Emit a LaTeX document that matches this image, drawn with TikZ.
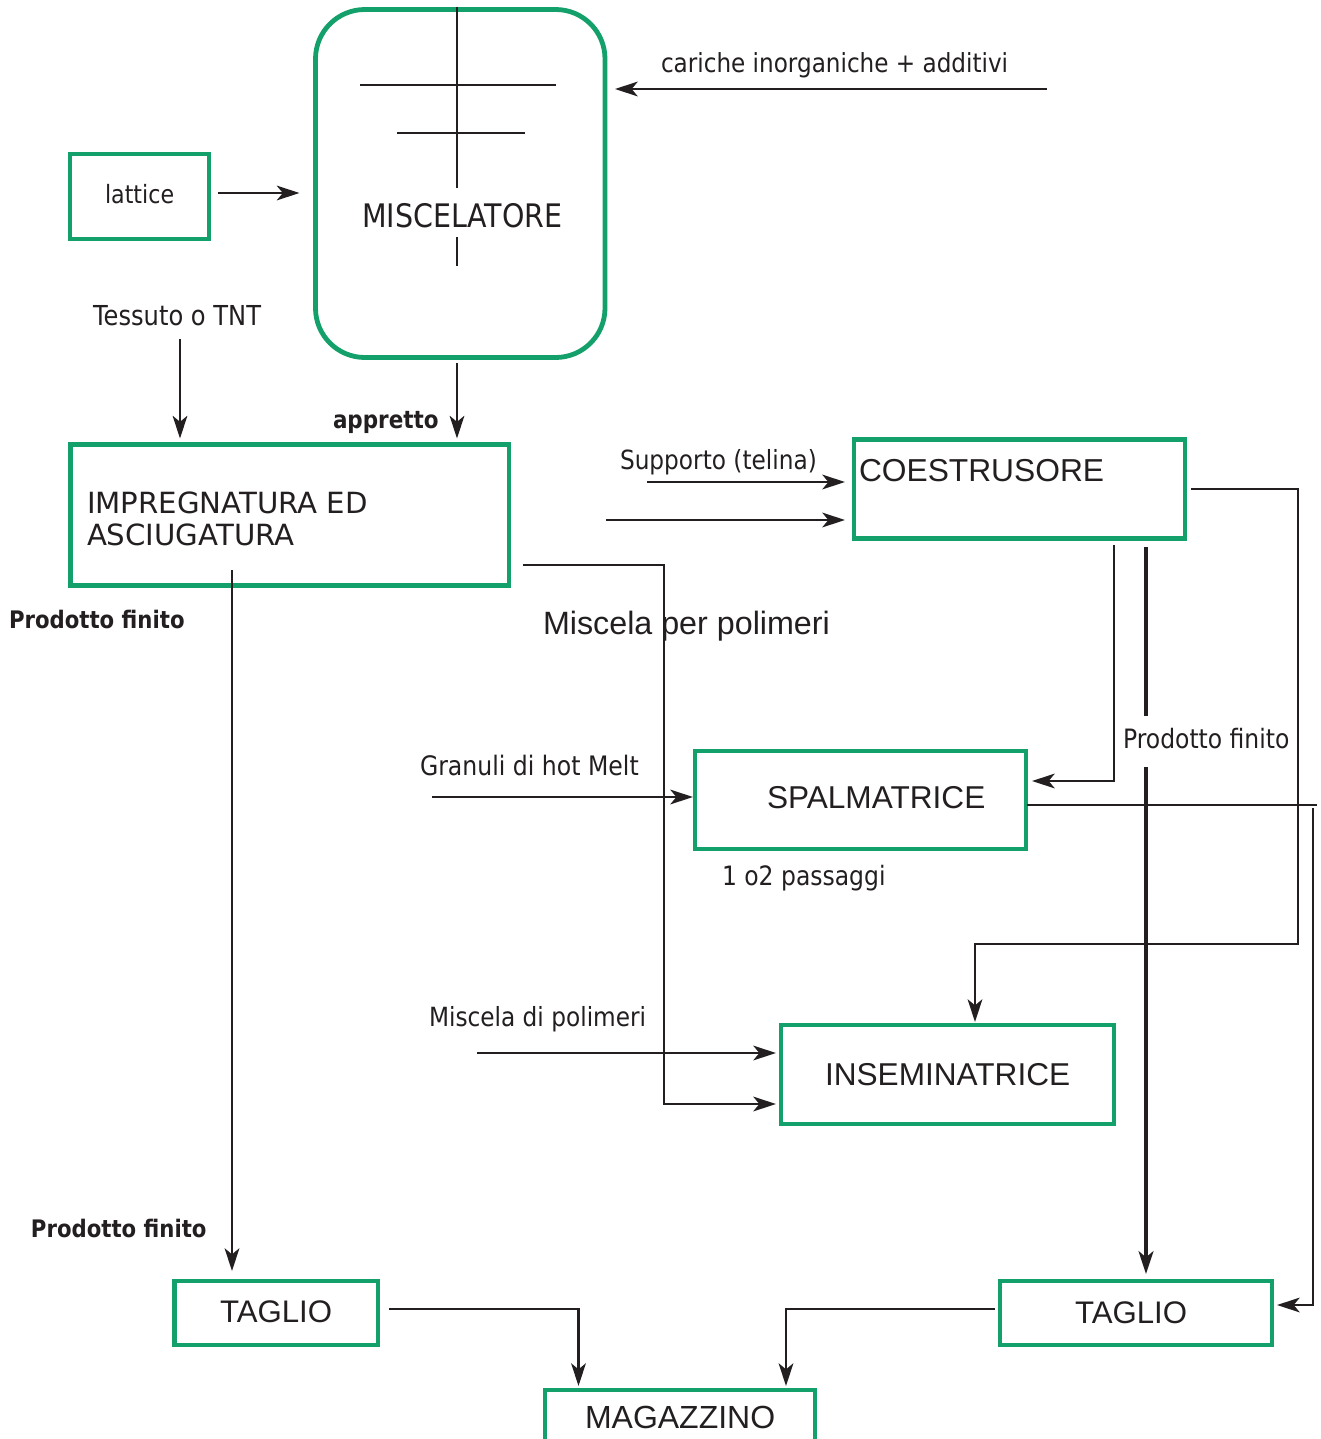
\documentclass[tikz,border=0pt]{standalone}
\usepackage{fontspec}
\usetikzlibrary{arrows.meta,calc,fit}
\newfontfamily\tah[FakeStretch=0.88]{DejaVu Sans}
\newfontfamily\ver{DejaVu Sans}
\newfontfamily\ari{Liberation Sans}
\definecolor{ink}{RGB}{35,31,32}
\definecolor{boxgreen}{RGB}{20,160,106}
\newcommand{\fs}[1]{\fontsize{#1}{#1}\selectfont}
\tikzset{
  gbox/.style={draw=boxgreen, line width=3.6pt, inner sep=0pt, outer sep=0pt, rectangle},
  ln/.style={draw=ink, line width=1.9pt},
  thk/.style={draw=ink, line width=3pt},
  arr/.style={ln, -{Stealth[length=17pt,width=11pt,inset=4.5pt]}},
  tharr/.style={thk, -{Stealth[length=17pt,width=11pt,inset=4.5pt]}},
  txt/.style={anchor=base west, inner sep=0pt, outer sep=0pt, text=ink}
}
\begin{document}
\begin{tikzpicture}[x=0.75pt,y=-0.75pt]
\useasboundingbox (0,0) rectangle (1321,1439);
\clip (0,0) rectangle (1321,1439);
\fill[white] (0,0) rectangle (1321,1439);

% boxes
\node[gbox, rounded corners=37pt, fit={(315.5,9.5) (605,357.5)}] (mix) {};
\node[gbox, fit={(70,154) (209,239)}] (lat) {};
\node[gbox, fit={(70.5,444.5) (509,585.5)}] (imp) {};
\node[gbox, fit={(854,439.5) (1185,538.5)}] (coe) {};
\node[gbox, fit={(695,751) (1026,849)}] (spal) {};
\node[gbox, fit={(781,1025) (1114,1124)}] (ins) {};
\node[gbox, fit={(174.5,1281) (378,1345)}] (tagl) {};
\node[gbox, fit={(1000,1281) (1272,1345)}] (tagr) {};
\node[gbox, fit={(545,1390) (815,1480)}] (mag) {};

% mixer shaft and blades
\draw[ln] (457,7) -- (457,188);
\draw[ln] (457,237) -- (457,266);
\draw[ln] (360,85) -- (556,85);
\draw[ln] (397,133) -- (525,133);

% texts
\node[txt,font=\tah\fs{19.7pt}] (car) at (661,72) {cariche inorganiche + additivi};
\node[txt,font=\tah\fs{24.3pt}] (mixl) at (362,227) {MISCELATORE};
\node[txt,font=\tah\fs{18.9pt}] (latl) at (105,203) {lattice};
\node[txt,font=\tah\fs{20.6pt}] (tes) at (93,325) {Tessuto o TNT};
\node[txt,font=\tah\bfseries\fs{18.3pt}] (app) at (333,428) {appretto};
\node[txt,font=\ver\fs{21.9pt}] (imp1) at (87,513) {IMPREGNATURA ED};
\node[txt,font=\ver\fs{21.9pt}] (imp2) at (87,545) {ASCIUGATURA};
\node[txt,font=\tah\fs{19.8pt}] (sup) at (620,469) {Supporto (telina)};
\node[txt,font=\ari\fs{23.8pt}] (coel) at (859,481) {COESTRUSORE};
\node[txt,font=\tah\bfseries\fs{18.1pt}] (pf1) at (9,628) {Prodotto finito};
\node[txt,font=\ari\fs{24.2pt}] (mpp) at (543,634) {Miscela per polimeri};
\node[txt,font=\tah\fs{20pt}] (pf2) at (1123,748) {Prodotto finito};
\node[txt,font=\tah\fs{20.1pt}] (gra) at (420,775) {Granuli di hot Melt};
\node[txt,font=\ari\fs{23.7pt}] (spall) at (767,808) {SPALMATRICE};
\node[txt,font=\tah\fs{20pt}] (pas) at (722,885) {1 o2 passaggi};
\node[txt,font=\tah\fs{19.8pt}] (mdp) at (429,1026) {Miscela di polimeri};
\node[txt,font=\ari\fs{23.7pt}] (insl) at (825,1085) {INSEMINATRICE};
\node[txt,font=\tah\bfseries\fs{18.1pt}] (pf3) at (31,1237) {Prodotto finito};
\node[txt,font=\ari\fs{23.4pt}] (tagll) at (220,1322) {TAGLIO};
\node[txt,font=\ari\fs{23.4pt}] (tagrl) at (1075,1323) {TAGLIO};
\node[txt,font=\ari\fs{24pt}] (magl) at (585,1428) {MAGAZZINO};

% free ends
\coordinate (carS) at (1047,89);
\coordinate (tesS) at (180,339);
\coordinate (impd) at (232,570);
\coordinate (supS) at (647,482);
\coordinate (mpS) at (606,520);
\coordinate (graS) at (432,797);
\coordinate (mdpS) at (477,1053);

% connectors
\draw[arr] (carS) -- ($(mix.east|-carS)+(10,0)$);
\draw[arr] ($(lat.east)+(9,-3.5)$) -- ($(mix.west|-lat.east)+(-16,-3.5)$);
\draw[arr] (tesS) -- ($(tesS|-imp.north)+(0,-6)$);
\draw[arr] ($(mix.south)+(-3.25,5.5)$) -- ($(mix.south|-imp.north)+(-3.25,-6)$);
\draw[arr] (impd) -- ($(impd|-tagl.north)+(0,-10)$);
\draw[arr] ($(imp.east)+(14,50)$) -| ($(ins.west)+(-117,29.5)$) -- ($(ins.west)+(-5,29.5)$);
\draw[arr] (supS) -- ($(coe.west|-supS)+(-9,0)$);
\draw[arr] (mpS) -- ($(coe.west|-mpS)+(-9,0)$);
\draw[arr] ($(coe.east)+(6,0)$) -| (1298,944) -| ($(ins.north)+(27.5,-3)$);
\draw[arr] ($(coe.south)+(94.5,6.5)$) |- ($(spal.east)+(6,-19)$);
\draw[thk] ($(coe.south)+(126.5,8.5)$) -- (1146,716);
\draw[tharr] (1146,767) -- ($(tagr.north)+(10,-7)$);
\draw[ln] ($(spal.east)+(1,5)$) -- (1317,805);
\draw[arr] (1313,808) |- ($(tagr.east)+(5,-8)$);
\draw[arr] (graS) -- ($(spal.west|-graS)+(-2,0)$);
\draw[arr] (mdpS) -- ($(ins.west|-mdpS)+(-5,0)$);
\draw[arr] ($(tagl.east)+(11,-4)$) -| ($(mag.north)+(-101.5,-4)$);
\draw[arr] ($(tagr.west)+(-5,-4)$) -| ($(mag.north)+(106,-4)$);
\end{tikzpicture}
\end{document}
